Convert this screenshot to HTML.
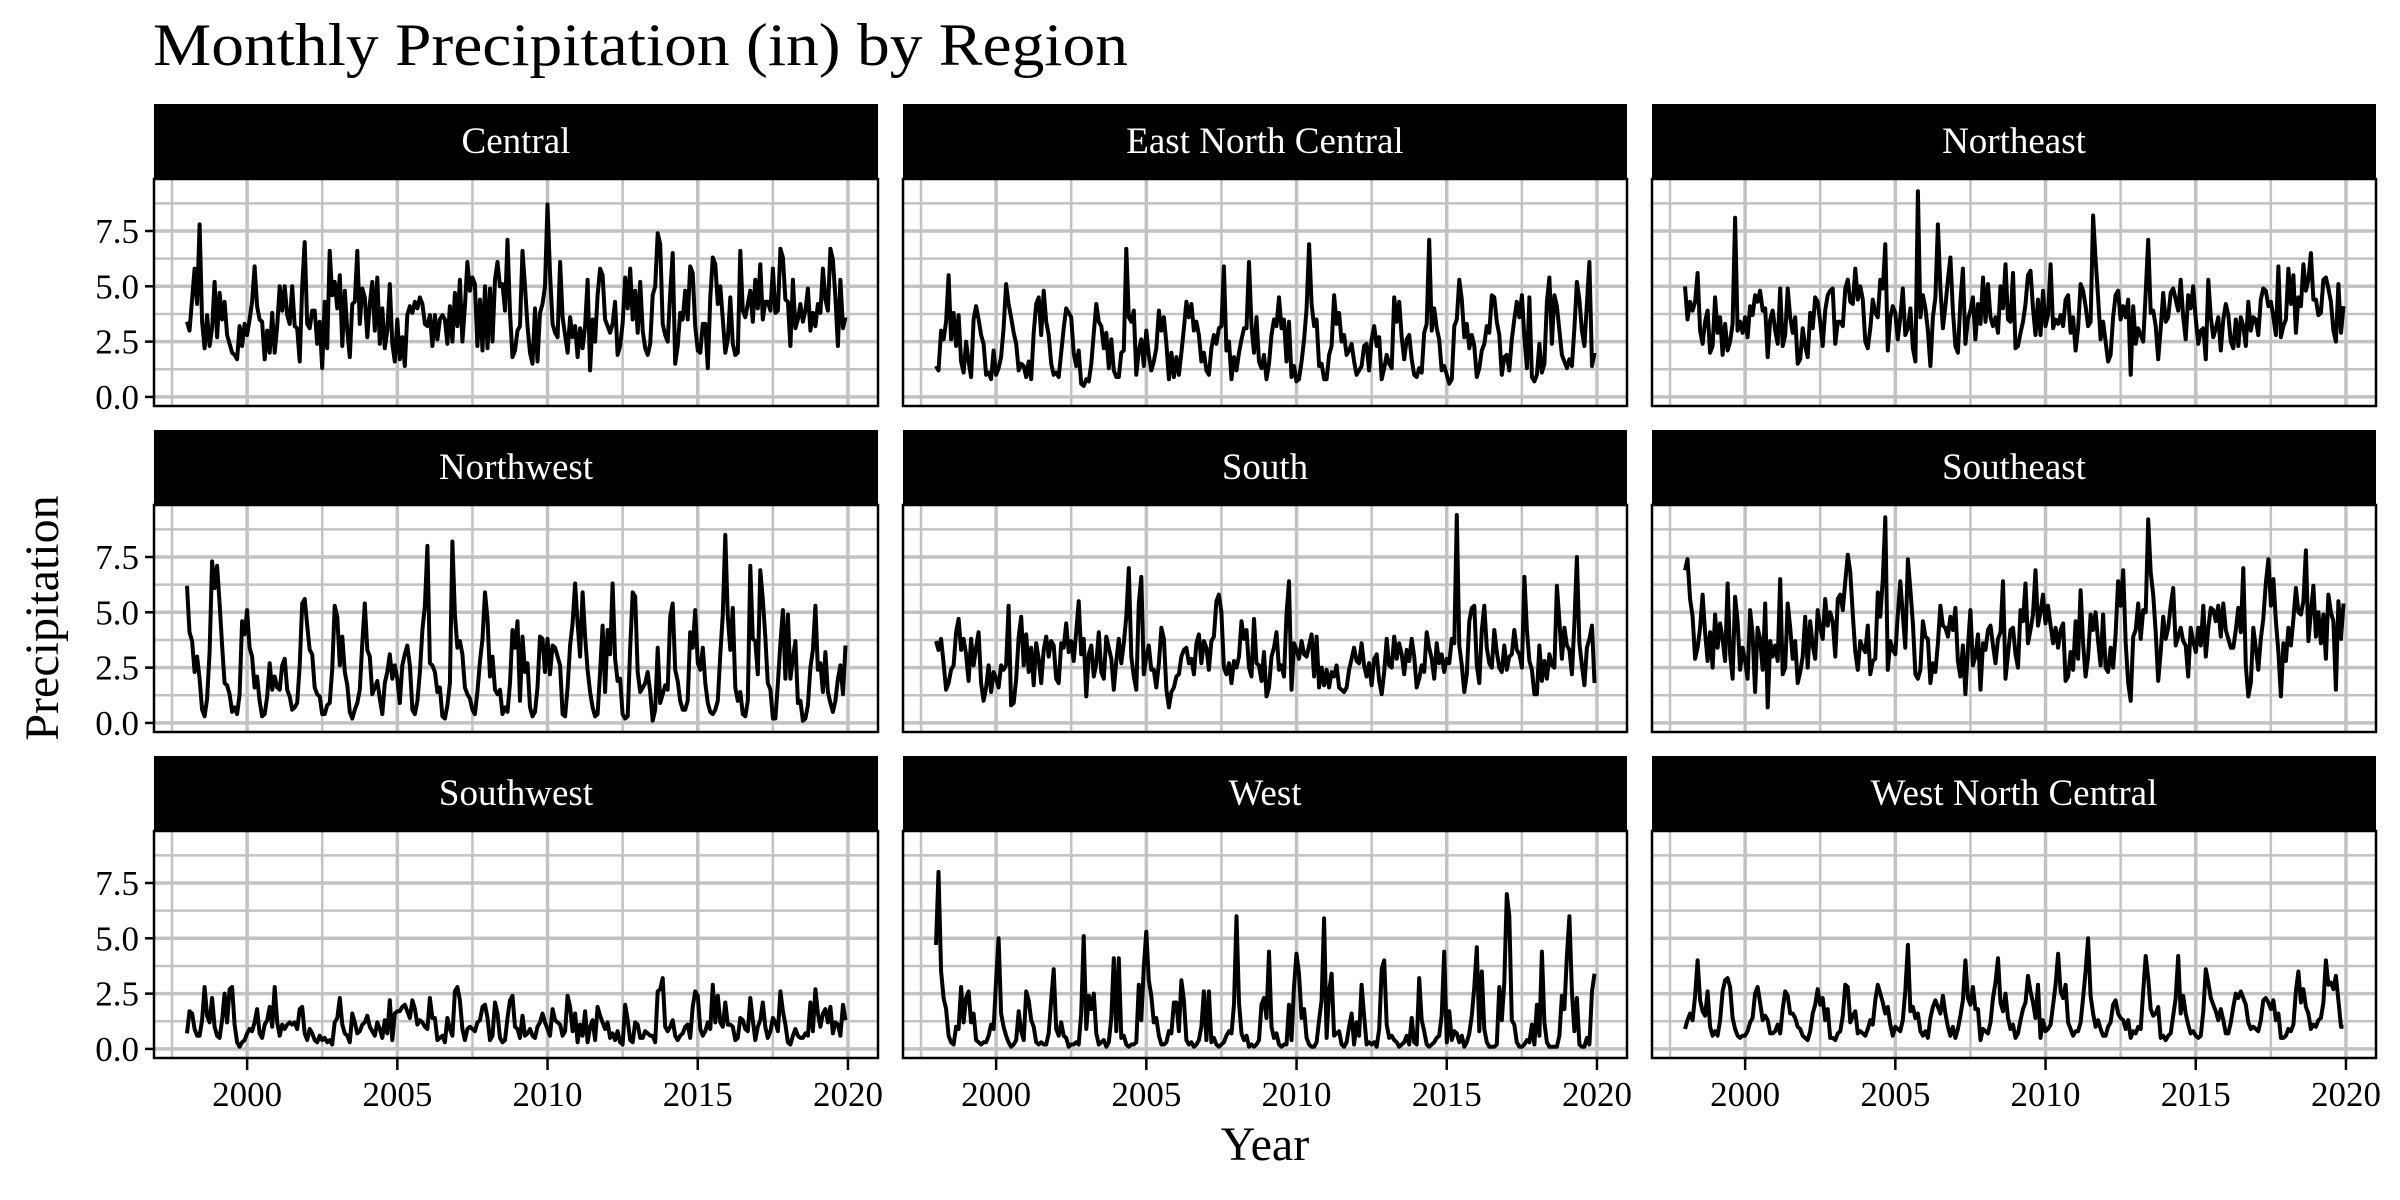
<!DOCTYPE html>
<html><head><meta charset="utf-8"><style>
html,body{margin:0;padding:0;background:#fff;}
svg{display:block;font-family:"Liberation Serif",serif;}
</style></head><body>
<svg id="chart" width="2400" height="1200" viewBox="0 0 2400 1200" xmlns="http://www.w3.org/2000/svg">
<rect width="2400" height="1200" fill="#fff"/>
<text x="153" y="65" font-size="60" textLength="975" lengthAdjust="spacingAndGlyphs">Monthly Precipitation (in) by Region</text>
<text x="1265" y="1160" font-size="48" text-anchor="middle">Year</text>
<text x="0" y="0" font-size="48" text-anchor="middle" transform="translate(58,618) rotate(-90)">Precipitation</text>
<g id="panels"></g>
</svg>
<script>
const regions = ["Central","East North Central","Northeast","Northwest","South","Southeast","Southwest","West","West North Central"];
const startYear = 1998;
const yTicks = [0, 2.5, 5, 7.5];
const yTickLabels = ["0.0","2.5","5.0","7.5"];
const yMinor = [1.25, 3.75, 6.25, 8.75];
const xTicks = [2000, 2005, 2010, 2015, 2020];
const xTickLabels = ["2000","2005","2010","2015","2020"];
const xMinor = [1997.5, 2002.5, 2007.5, 2012.5, 2017.5];

const central = [3.4,3.0,4.4,5.8,4.2,7.8,3.4,2.2,3.7,2.3,3.1,5.2, 2.7,4.7,3.5,4.3,2.8,2.4,2.0,1.9,1.7,3.2,2.3,3.3, 2.8,3.5,4.3,5.9,4.1,3.5,3.4,1.7,3.0,2.0,3.8,2.0, 3.2,5.0,3.9,5.0,3.7,3.3,5.0,3.2,3.1,1.6,5.0,7.0, 3.3,3.1,3.9,3.9,2.4,3.4,1.3,4.3,2.2,6.6,4.6,5.2, 4.0,5.5,2.3,4.8,3.0,1.8,4.2,4.3,6.6,3.3,4.9,4.5, 2.7,4.2,5.2,3.0,5.4,2.4,4.0,2.2,3.0,5.1,2.4,1.6, 3.5,1.7,2.7,1.4,3.7,4.1,3.8,4.3,4.0,4.5,4.2,3.3, 3.2,3.7,2.3,3.7,2.6,3.5,3.7,3.5,2.4,4.1,2.5,4.7, 3.2,5.3,2.5,4.1,6.1,4.8,5.4,5.1,2.3,4.4,2.1,5.0, 2.2,4.9,2.5,5.3,6.1,5.0,5.1,3.9,7.1,3.8,1.8,2.1, 3.0,3.2,6.6,5.0,3.2,2.0,1.5,4.0,1.6,3.8,4.2,5.0, 8.7,5.6,3.3,2.9,2.7,6.1,3.6,2.8,2.0,3.6,2.7,3.2, 1.8,3.1,2.2,3.2,5.3,1.2,3.5,2.5,4.6,5.8,5.5,3.5, 3.2,2.9,3.3,4.3,1.9,2.3,3.3,5.4,4.0,5.8,3.5,4.8, 2.9,5.2,3.0,2.2,1.9,2.4,4.6,5.0,7.4,6.9,3.3,2.8, 2.5,4.7,6.5,1.5,2.3,3.8,3.5,4.8,3.5,5.9,5.6,3.2, 2.1,2.0,3.3,3.3,1.3,4.5,6.3,6.0,4.2,5.0,3.5,2.0, 2.6,4.5,2.4,1.9,2.0,6.6,3.9,3.6,4.2,4.8,3.4,5.3, 4.0,6.0,3.5,4.3,4.3,3.9,5.8,3.8,3.9,6.7,6.3,4.4, 4.3,2.3,5.3,3.1,3.5,4.2,3.4,3.9,4.9,3.0,3.8,3.2, 4.2,3.8,5.8,4.4,3.9,6.7,6.2,4.5,2.3,5.3,3.1,3.6];
const eastNorthCentral = [1.4,1.2,3.0,2.6,3.4,5.5,2.6,3.8,2.3,3.7,1.6,1.1, 2.5,1.6,0.9,3.5,4.1,3.5,2.8,2.4,1.0,1.1,0.8,2.1, 1.0,1.3,1.8,3.1,5.1,4.2,3.6,2.9,2.4,1.2,1.5,1.4, 0.9,1.6,0.8,2.9,4.2,4.5,2.8,4.8,3.4,2.8,1.5,1.0, 1.1,0.9,2.0,3.1,4.0,3.8,3.6,2.0,1.4,2.1,0.6,0.5, 0.8,0.7,1.5,2.9,4.2,3.4,3.2,2.2,2.9,1.3,2.6,1.2, 0.9,0.9,2.0,2.1,6.7,3.6,3.4,3.9,1.0,2.1,2.6,1.4, 3.0,1.9,1.2,1.6,2.2,3.9,3.0,3.6,2.4,0.8,2.0,0.9, 1.8,1.0,2.0,3.1,4.3,3.6,4.2,3.0,3.4,2.8,1.6,2.0, 1.2,1.0,2.2,2.8,2.4,3.1,3.2,5.9,2.1,2.5,0.8,1.8, 1.2,2.0,2.6,3.1,3.1,6.1,3.2,2.0,3.6,1.6,1.3,1.9, 0.8,1.5,2.8,3.5,3.2,4.5,3.1,3.5,1.6,3.4,0.9,1.4, 0.7,0.8,1.6,2.6,4.0,6.9,4.2,3.2,3.5,1.4,1.5,0.8, 0.8,1.9,2.3,4.6,3.3,3.8,2.5,2.8,1.9,2.1,2.4,1.6, 1.0,1.2,1.4,2.3,2.4,1.2,2.6,3.2,2.3,2.7,0.8,1.3, 1.9,1.5,1.3,4.5,3.4,4.3,2.7,1.7,2.6,2.8,1.7,1.0, 0.9,1.3,1.1,2.9,3.3,7.1,3.0,4.0,3.1,2.6,1.2,1.4, 1.0,0.6,0.8,3.2,3.5,5.3,4.4,2.7,3.3,2.2,2.8,2.3, 0.9,1.3,2.1,2.4,3.2,2.9,4.6,4.5,3.4,2.8,1.0,1.8, 1.9,1.2,2.6,3.5,4.3,3.6,4.6,2.7,1.3,4.5,0.9,0.7, 1.0,2.4,1.1,1.5,4.3,5.4,2.4,4.6,4.1,3.0,1.9,1.6, 1.3,1.7,1.4,3.1,5.2,4.4,3.0,2.3,4.2,6.1,1.4,2.0];
const northeast = [5.0,3.5,4.3,3.9,4.3,5.6,3.0,2.4,3.4,3.9,2.0,2.3, 4.5,2.9,3.6,1.9,3.3,2.1,2.5,3.3,8.1,3.0,3.4,2.9, 3.6,2.7,4.1,3.7,4.6,4.3,4.8,3.9,4.0,1.8,3.5,3.9, 3.0,2.4,4.9,2.3,2.8,4.9,3.6,2.9,3.6,1.5,1.7,3.1, 2.3,1.8,3.8,3.1,4.5,4.3,3.4,2.3,3.9,4.6,4.8,4.9, 2.4,3.4,3.4,3.2,4.9,5.3,4.3,4.2,5.8,4.4,5.0,4.4, 2.5,2.2,3.1,4.4,3.8,3.6,5.3,4.9,6.9,2.1,3.6,4.1, 3.8,2.6,3.6,4.9,2.8,3.1,4.0,2.2,1.6,9.3,3.6,4.6, 4.0,3.0,1.4,3.6,4.5,7.8,4.9,3.1,4.1,5.3,6.3,3.9, 2.3,2.0,4.3,5.8,2.4,3.5,3.9,4.5,2.6,4.2,3.3,5.4, 3.4,5.1,3.6,3.2,3.6,2.9,5.0,4.0,6.0,3.5,3.4,5.6, 2.2,2.3,2.9,3.4,4.2,5.5,5.7,4.0,2.8,4.4,2.8,4.8, 3.2,3.7,6.0,3.1,3.5,3.3,3.7,3.2,4.4,4.6,2.9,3.6, 2.1,3.1,5.1,4.8,4.1,3.2,3.4,8.2,6.2,4.5,2.6,3.4, 2.5,1.6,1.9,3.6,4.6,4.8,3.5,4.1,3.6,4.4,1.0,4.1, 2.4,3.1,2.8,2.5,4.7,7.1,3.8,3.9,3.2,1.7,3.1,4.7, 3.4,3.6,4.7,4.9,4.4,3.9,5.3,3.6,2.6,4.6,4.0,5.0, 3.5,2.4,3.0,3.1,1.7,5.3,3.6,2.7,3.1,3.6,2.1,3.5, 4.2,3.7,2.5,2.2,3.5,2.3,3.6,3.2,2.3,4.3,3.0,3.6, 3.5,2.8,4.4,4.9,4.8,4.1,4.3,3.6,2.8,5.9,2.7,3.2, 3.5,5.8,4.2,5.5,2.9,4.5,4.1,6.0,4.8,5.3,6.5,4.4, 4.4,3.7,3.8,5.3,5.4,4.9,4.3,3.0,2.5,5.1,2.9,4.1];
const northwest = [6.2,4.1,3.7,2.3,3.0,2.0,0.6,0.3,1.1,3.2,7.3,6.1, 7.1,5.4,3.5,1.8,1.7,1.3,0.5,0.7,0.4,1.3,4.6,4.0, 5.1,3.4,3.0,1.6,2.1,1.0,0.3,0.4,1.2,2.7,1.5,2.1, 1.6,1.5,2.6,2.9,1.5,1.2,0.6,0.7,0.9,2.6,5.4,5.6, 4.4,3.3,3.1,1.6,1.3,1.2,0.4,0.4,0.8,0.9,2.4,5.3, 4.8,2.6,3.9,2.3,1.7,0.5,0.2,0.6,0.9,1.5,3.6,5.4, 3.3,3.0,1.3,1.6,1.9,1.1,0.4,1.8,2.3,3.1,2.0,2.6, 2.0,0.9,2.6,3.1,3.5,2.6,0.6,0.4,1.0,2.3,4.2,5.3, 8.0,2.7,2.6,2.3,1.4,1.6,0.3,0.2,0.8,1.8,8.2,4.9, 3.4,3.7,3.1,1.6,1.3,1.1,0.6,0.4,1.4,2.8,3.8,5.9, 4.7,2.1,3.0,1.5,1.3,1.5,0.4,0.7,0.5,1.8,4.2,3.4, 4.6,1.0,3.9,2.3,2.7,0.7,0.3,0.5,1.6,3.9,3.8,2.3, 3.8,2.2,3.5,3.4,3.0,2.6,0.4,0.3,1.6,3.5,4.5,6.3, 4.5,3.0,5.9,3.9,2.4,1.4,0.7,0.3,0.4,2.3,4.4,1.4, 4.2,3.1,6.3,2.9,1.9,2.0,0.4,0.2,0.3,3.4,5.9,5.7, 2.3,1.4,1.6,1.8,2.3,1.4,0.1,0.6,3.4,0.9,1.3,1.7, 1.5,4.8,5.4,2.4,1.9,1.0,0.6,0.6,1.0,4.1,3.4,5.1, 2.7,2.4,3.4,1.8,0.9,0.5,0.4,0.6,1.0,3.1,4.9,8.5, 4.8,3.3,5.2,1.6,1.0,1.4,0.4,0.3,1.0,7.1,3.8,3.7, 2.2,6.9,5.6,3.9,1.8,1.5,0.2,0.2,1.8,3.6,5.1,2.0, 4.9,2.0,2.9,3.7,0.9,1.0,0.1,0.2,0.8,2.5,3.3,5.3, 2.4,2.7,1.4,3.2,1.4,0.9,0.5,1.0,2.0,2.6,1.3,3.5];
const south = [3.7,3.3,3.8,2.7,1.5,1.8,2.4,2.6,4.1,4.7,3.3,3.8, 3.1,1.9,3.8,2.6,3.4,4.1,1.8,1.0,1.6,2.6,1.4,2.3, 2.0,1.6,2.6,2.4,2.6,5.3,0.8,0.9,2.0,3.9,4.8,2.6, 4.0,2.3,3.4,1.7,3.6,2.9,1.8,3.3,3.9,3.0,3.7,3.5, 2.0,1.8,3.6,3.4,4.5,3.2,3.7,2.8,4.1,5.5,3.1,3.8, 1.2,3.1,3.5,2.1,2.7,4.1,2.3,2.0,3.9,3.4,2.9,1.5, 2.8,3.8,2.7,3.6,4.8,7.0,3.0,2.1,1.5,5.4,6.6,2.2, 3.0,3.5,2.4,2.4,1.6,2.7,4.3,3.8,1.5,0.7,1.4,1.6, 2.1,2.2,3.0,3.3,3.4,2.7,2.9,2.2,3.6,4.0,2.7,3.7, 3.4,2.4,3.7,3.9,5.5,5.8,5.0,2.5,2.2,2.7,1.8,2.8, 2.5,3.0,4.6,3.8,4.2,2.5,2.1,4.7,2.7,2.6,1.9,3.2, 1.2,1.6,3.0,3.4,4.1,2.4,2.6,2.1,4.9,6.4,1.5,3.6, 3.3,2.9,3.7,3.1,3.0,3.5,4.0,2.1,3.9,1.6,2.5,1.7, 2.4,1.6,2.3,2.1,2.6,1.6,1.5,1.4,1.6,2.4,2.9,3.4, 2.8,2.7,3.6,2.6,2.1,2.7,1.7,2.9,3.1,1.9,1.3,2.3, 3.8,2.6,2.5,3.9,2.9,3.6,3.1,2.2,3.3,2.8,3.8,3.0, 1.6,2.0,2.6,2.3,4.1,3.4,2.9,2.0,3.6,2.7,3.1,2.3, 2.9,2.7,3.8,3.6,9.4,3.5,2.6,1.4,2.2,4.6,5.2,5.3, 2.6,1.8,4.2,5.3,3.4,2.7,2.5,4.2,3.2,2.5,2.3,3.5, 2.4,3.0,3.1,4.2,3.3,3.1,2.5,6.6,4.2,2.8,2.4,1.3, 1.3,3.5,1.9,2.8,2.0,3.1,2.6,2.5,6.2,4.6,2.9,4.3, 3.5,3.3,2.2,4.5,7.5,3.6,2.6,1.7,3.4,3.8,4.4,1.8];
const southeast = [6.9,7.4,5.6,4.8,2.9,3.4,4.3,5.8,4.1,2.8,4.1,2.5, 4.9,3.4,4.5,3.8,2.8,6.3,3.1,2.0,5.7,4.6,2.4,3.4, 2.8,2.0,5.1,4.0,1.4,4.3,3.8,2.4,5.4,0.7,3.7,3.0, 3.5,2.8,6.5,2.2,2.5,5.4,4.3,2.9,3.7,1.8,2.3,3.0, 4.8,2.5,4.6,3.5,2.9,5.1,4.3,3.8,5.6,4.4,5.0,4.6, 3.0,5.6,5.8,5.1,6.4,7.6,6.8,4.9,3.2,2.4,3.7,3.4, 3.2,4.4,2.2,2.8,2.9,5.9,4.8,6.5,9.3,2.4,3.7,3.3, 3.1,4.9,6.4,4.9,3.4,7.4,6.0,4.5,2.2,2.0,2.4,4.6, 3.9,3.8,1.8,2.7,2.3,3.6,5.3,4.4,4.3,3.9,4.8,4.2, 5.2,2.8,2.1,3.5,1.3,3.4,5.1,2.6,3.0,4.0,1.5,3.6, 3.3,4.2,4.4,3.5,2.7,3.8,4.1,6.4,2.0,3.1,4.2,4.3, 3.1,2.5,5.1,4.6,6.3,3.6,4.2,4.9,6.9,4.4,5.0,5.8, 4.5,5.3,4.4,3.6,4.3,3.4,4.2,4.5,1.9,2.1,3.2,2.4, 4.6,2.9,6.0,3.6,2.1,3.0,4.9,4.2,5.0,3.7,2.6,4.9, 2.5,2.3,3.4,2.5,4.0,6.4,5.3,6.9,3.6,1.8,1.0,3.9, 4.2,5.4,3.8,5.1,5.0,9.2,6.8,5.8,4.1,1.9,3.2,4.8, 3.8,4.3,5.3,6.1,3.5,3.9,4.3,3.7,3.5,2.1,4.3,3.7, 3.2,4.3,3.5,5.3,3.0,4.3,5.2,5.1,4.6,5.3,3.9,5.4, 4.2,3.8,3.4,3.4,4.2,5.2,4.1,7.0,2.6,1.2,1.8,4.3, 3.4,2.4,3.8,4.7,6.3,7.4,5.3,6.5,4.6,3.2,1.2,3.6, 2.8,4.3,3.5,4.7,6.1,5.0,4.9,5.5,7.8,3.7,5.0,6.2, 3.9,5.0,3.6,4.9,2.9,5.8,5.0,4.6,1.5,5.5,3.8,5.4];
const southwest = [0.7,1.7,1.6,0.9,0.6,0.6,1.3,2.8,1.5,1.2,2.3,1.0, 0.6,0.5,1.3,2.5,1.2,2.7,2.8,1.1,0.3,0.1,0.3,0.4, 0.7,0.9,0.8,1.2,1.8,0.7,0.5,1.1,1.3,1.9,1.0,2.8, 1.2,0.6,1.1,0.9,1.1,1.2,1.1,1.2,0.9,1.8,1.9,0.7, 0.4,0.9,0.7,0.4,0.3,0.6,0.4,0.5,0.3,0.4,0.2,1.2, 1.4,2.3,1.1,0.7,0.6,0.3,1.6,1.2,0.7,0.8,1.1,1.2, 1.5,1.0,0.8,0.6,1.2,0.9,0.5,1.3,0.7,2.2,0.4,1.6, 1.7,1.7,1.9,2.0,1.7,1.4,2.2,1.8,1.1,1.3,1.2,1.0, 0.9,2.3,1.4,1.4,0.4,0.5,0.6,0.3,1.4,0.9,0.6,2.6, 2.8,2.2,0.9,0.4,0.9,1.0,0.9,0.8,1.2,1.3,1.9,2.0, 1.4,0.4,0.6,2.1,1.6,0.5,0.3,0.4,1.4,2.2,2.4,1.0, 0.9,0.5,1.5,0.6,0.7,0.9,0.6,0.5,1.0,1.2,1.6,1.2, 0.9,0.6,1.8,1.3,1.2,1.1,0.6,0.8,2.4,1.9,0.8,1.6, 0.3,1.1,0.6,1.7,0.3,1.0,1.3,0.4,1.9,1.5,1.2,0.9, 1.2,0.5,0.7,0.4,0.8,0.3,0.2,2.0,1.3,0.4,0.3,1.2, 1.1,0.5,0.5,0.8,0.7,0.6,0.6,0.3,2.6,2.7,3.2,1.0, 0.8,1.0,1.3,0.6,0.4,0.6,0.7,1.0,1.1,0.5,1.9,2.6, 2.4,0.9,0.6,0.8,1.2,0.9,2.9,1.2,2.4,1.2,1.0,2.1, 1.1,1.1,1.0,0.4,0.5,1.4,1.3,0.9,0.8,2.3,1.3,0.4, 1.0,1.3,2.1,1.0,0.5,0.8,1.4,1.2,0.8,2.6,1.7,1.1, 0.3,0.2,0.6,0.9,0.6,0.5,0.5,0.7,0.6,2.1,0.8,2.7, 1.6,1.0,1.6,1.8,1.2,1.9,0.7,1.2,1.1,0.6,2.0,1.3];
const west = [4.7,8.0,3.5,2.3,1.8,0.6,0.3,0.2,1.0,0.9,2.8,1.2, 2.3,2.6,1.2,1.6,0.4,0.3,0.2,0.3,0.3,0.6,1.1,0.9, 3.1,5.0,1.6,1.0,0.6,0.3,0.1,0.2,0.4,1.7,0.8,0.4, 2.6,2.2,1.3,1.0,0.3,0.2,0.3,0.2,0.2,0.7,2.2,3.6, 0.9,0.6,1.2,0.6,0.5,0.1,0.2,0.2,0.3,0.2,1.6,5.1, 0.9,2.4,1.8,2.5,0.7,0.2,0.3,0.4,0.1,0.3,1.4,4.1, 0.8,4.1,0.5,0.6,0.2,0.1,0.2,0.2,0.3,2.9,1.3,3.7, 5.3,3.1,2.4,1.2,1.4,0.6,0.2,0.2,0.3,0.8,0.7,2.1, 2.1,0.8,3.1,2.2,0.4,0.2,0.3,0.1,0.2,0.4,1.0,2.6, 0.4,2.6,0.3,0.5,0.2,0.1,0.2,0.3,0.6,0.8,0.7,2.0, 6.0,2.1,0.7,0.4,0.6,0.1,0.2,0.1,0.2,0.4,2.0,2.3, 1.4,4.4,1.0,0.5,0.7,0.2,0.1,0.2,0.2,2.0,0.4,2.8, 4.3,3.4,1.4,1.8,0.5,0.2,0.1,0.1,0.3,1.3,2.2,5.9, 0.5,2.6,3.4,0.6,0.7,0.8,0.2,0.1,0.3,1.0,1.6,0.2, 1.2,0.6,2.9,1.5,0.2,0.3,0.2,0.3,0.1,0.9,3.6,4.0, 1.1,0.5,0.6,0.4,0.3,0.1,0.2,0.3,0.6,0.2,1.4,0.3, 0.2,3.2,1.3,0.8,0.2,0.1,0.2,0.3,0.5,0.6,1.5,4.4, 0.3,1.7,0.4,0.8,0.7,0.3,0.6,0.1,0.3,0.7,1.5,2.8, 4.6,0.8,3.5,0.9,0.3,0.1,0.1,0.1,0.2,2.8,1.3,3.0, 7.0,6.0,1.3,1.1,0.3,0.1,0.1,0.2,0.4,0.3,1.1,0.2, 2.0,0.6,4.4,1.2,0.3,0.1,0.1,0.1,0.1,0.6,2.4,1.8, 4.2,6.0,2.6,0.8,2.3,0.2,0.1,0.1,0.5,0.2,2.6,3.4];
const westNorthCentral = [0.9,1.3,1.6,1.3,2.4,4.0,2.2,1.7,1.5,2.6,1.0,0.6, 0.8,0.6,1.3,2.6,3.1,3.2,2.8,1.4,0.9,0.6,0.5,0.6, 0.6,0.8,1.2,1.4,2.5,2.8,2.1,1.3,1.5,1.3,0.7,0.7, 0.8,1.1,0.7,1.8,2.6,2.4,1.6,1.6,1.4,1.0,0.9,0.6, 0.5,0.4,0.8,1.6,2.0,2.7,2.0,2.3,1.3,1.8,0.5,0.5, 0.4,0.7,0.8,1.5,2.9,2.8,1.2,1.5,1.7,0.7,0.8,0.7, 0.6,0.9,1.3,1.1,2.2,2.9,2.5,2.1,1.6,1.9,1.1,0.6, 1.0,0.9,0.8,1.3,2.6,4.7,1.7,1.9,1.4,1.6,0.8,0.6, 0.8,0.5,1.4,1.9,2.2,1.9,1.6,2.4,1.6,1.0,0.6,1.0, 0.5,0.9,1.5,2.2,4.0,2.3,2.0,2.8,1.8,1.8,0.4,0.9, 0.8,0.7,1.2,2.3,3.0,4.1,2.1,1.7,2.5,1.4,0.9,1.1, 0.5,0.7,1.3,1.8,2.1,3.3,2.6,2.1,1.4,2.9,0.5,1.3, 0.8,0.9,1.1,2.0,2.9,4.3,2.6,2.3,2.9,1.2,0.9,0.6, 0.8,0.8,1.2,2.3,3.5,5.0,2.4,1.6,1.0,1.3,0.9,0.6, 0.6,1.0,1.2,2.0,2.2,1.6,1.4,1.3,0.9,1.3,0.5,0.8, 0.7,1.0,0.9,2.6,4.2,3.2,1.8,1.5,1.6,1.9,0.5,0.6, 0.4,0.6,0.7,1.5,2.3,4.2,1.6,2.4,1.6,1.1,0.7,0.8, 0.6,0.5,0.6,1.7,3.6,3.0,2.3,2.0,1.7,1.3,1.8,1.3, 0.7,0.7,1.2,1.9,2.5,2.3,2.6,2.3,2.0,1.2,0.9,1.0, 0.9,0.8,1.3,2.2,2.3,2.1,1.8,2.2,1.3,1.6,0.5,0.5, 0.6,0.9,0.8,1.1,2.6,3.5,2.1,2.7,1.9,1.6,0.9,1.1, 1.0,1.3,1.4,2.1,4.0,2.9,3.0,2.7,3.3,2.2,1.0,1.0];

const series = [central, eastNorthCentral, northeast, northwest, south, southeast, southwest, west, westNorthCentral];

const NS = "http://www.w3.org/2000/svg";
const colX = [154, 903, 1652];
const rowY = [104, 430, 756];
const PW = 724, SH = 75, PH = 227;
const X0 = 1996.9, X1 = 2021.0, Y0 = -0.41, Y1 = 9.85;
function mk(tag, attrs, parent) {
  const e = document.createElementNS(NS, tag);
  for (const k in attrs) e.setAttribute(k, attrs[k]);
  parent.appendChild(e);
  return e;
}
const root = document.getElementById("panels");
regions.forEach((name, i) => {
  const c = i % 3, r = Math.floor(i / 3);
  const L = colX[c], T = rowY[r] + SH;
  const xs = t => L + (t - X0) / (X1 - X0) * PW;
  const ys = v => T + PH * (Y1 - v) / (Y1 - Y0);
  const g = mk("g", {}, root);
  
  
  const strip = mk("rect", {x: L, y: rowY[r], width: PW, height: SH, fill: "#000"}, g);
  
  
  const st = mk("text", {x: L + PW / 2, y: rowY[r] + 49, "font-size": 37, fill: "#fff", "text-anchor": "middle"}, g);
  
  
  st.textContent = name;
  const gr = mk("g", {stroke: "#c2c2c2"}, g);
  
  
  yMinor.forEach(v => mk("line", {x1: L, x2: L + PW, y1: ys(v), y2: ys(v), "stroke-width": 2.5}, gr));
  xMinor.forEach(v => mk("line", {x1: xs(v), x2: xs(v), y1: T, y2: T + PH, "stroke-width": 2.5}, gr));
  yTicks.forEach(v => mk("line", {x1: L, x2: L + PW, y1: ys(v), y2: ys(v), "stroke-width": 3.5}, gr));
  xTicks.forEach(v => mk("line", {x1: xs(v), x2: xs(v), y1: T, y2: T + PH, "stroke-width": 3.5}, gr));
  const vals = series[i];
  const d = vals.map((v, k) => (k ? "L" : "M") + xs(startYear + k / 12).toFixed(1) + "," + ys(v).toFixed(1)).join("");
  const line = mk("path", {d: d, fill: "none", stroke: "#000", "stroke-width": 4, "stroke-linejoin": "round"}, g);
  
  
  const border = mk("rect", {x: L, y: T, width: PW, height: PH, fill: "none", stroke: "#000", "stroke-width": 2.5}, g);
  
  
  if (c === 0) {
    yTicks.forEach((v, k) => {
      mk("line", {x1: L - 9, x2: L, y1: ys(v), y2: ys(v), stroke: "#000", "stroke-width": 2.5}, g);
      const t = mk("text", {x: L - 15, y: ys(v) + 12, "font-size": 35, "text-anchor": "end"}, g);
      
      
      t.textContent = yTickLabels[k];
    });
  }
  if (r === 2) {
    xTicks.forEach((v, k) => {
      mk("line", {x1: xs(v), x2: xs(v), y1: T + PH, y2: T + PH + 12, stroke: "#000", "stroke-width": 2.5}, g);
      const t = mk("text", {x: xs(v), y: T + PH + 48, "font-size": 35, "text-anchor": "middle"}, g);
      
      
      t.textContent = xTickLabels[k];
    });
  }
});
</script>
</body></html>
